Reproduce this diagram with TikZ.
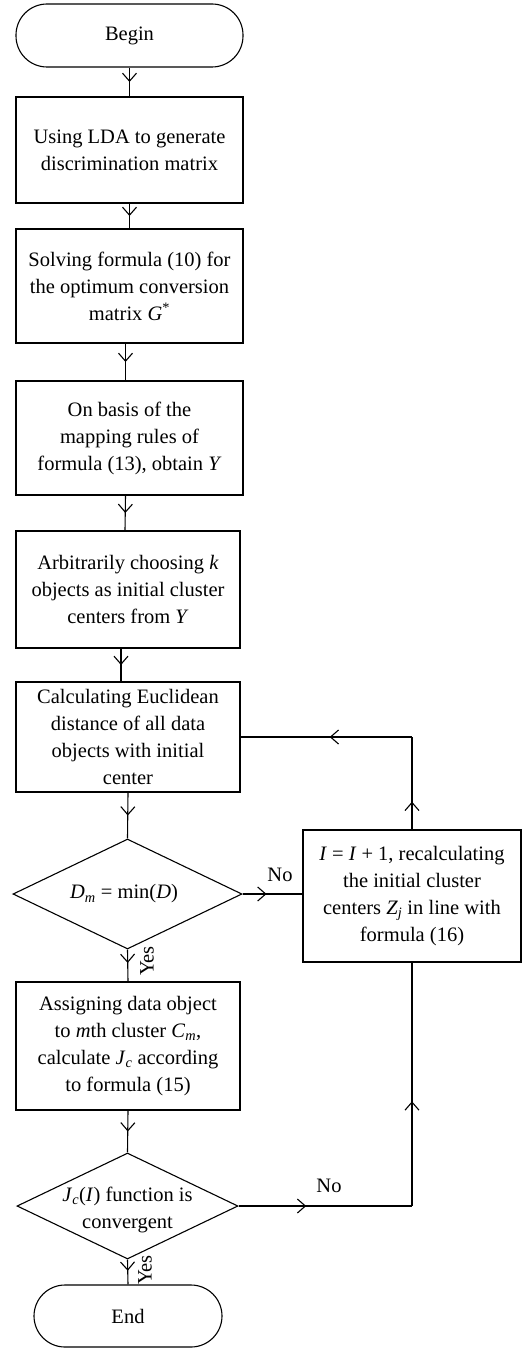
\documentclass[tikz,border=0pt]{standalone}
\usepackage{fontspec}
\setmainfont{Liberation Serif}
\usetikzlibrary{arrows.meta,decorations.markings,shapes.geometric}
\tikzset{
  txt/.style={font=\fontsize{20.5}{27}\selectfont, align=center},
  procbox/.style={draw, rectangle, inner sep=0pt, txt},
  termbox/.style={draw, rectangle, rounded corners=31pt, inner sep=0pt, txt},
  decbox/.style={draw, diamond, inner sep=0pt},
  lbl/.style={font=\fontsize{20.5}{24}\selectfont, inner sep=0pt},
  flow/.style={draw, postaction={decorate}, decoration={markings,
      mark=at position #1 with {\arrow{Straight Barb[length=8pt,width=14pt]}}}},
  flow/.default=0.5
}
\begin{document}
\begin{tikzpicture}[x=1pt,y=-1pt,line width=1.1pt]
\useasboundingbox (0,0) rectangle (529,1348);
\node[termbox, minimum width=227pt, minimum height=63pt] (begin) at (129.5,35.5) {Begin};
\node[procbox, minimum width=227pt, minimum height=106pt] (b1) at (129.5,150) {Using LDA to generate\\discrimination matrix};
\node[procbox, minimum width=227pt, minimum height=114pt] (b2) at (129.5,286) {Solving formula (10) for\\the optimum conversion\\matrix \textit{G}\textsuperscript{*}};
\node[procbox, minimum width=227pt, minimum height=114pt] (b3) at (129.5,438) {On basis of the\\mapping rules of\\formula (13), obtain \textit{Y}};
\node[procbox, minimum width=224pt, minimum height=117pt] (b4) at (128,589.5) {Arbitrarily choosing \textit{k}\\objects as initial cluster\\centers from \textit{Y}};
\node[procbox, minimum width=224pt, minimum height=110pt] (b5) at (128,737) {Calculating Euclidean\\distance of all data\\objects with initial\\center};
\node[decbox, minimum width=229pt, minimum height=110pt] (d1) at (127.5,894) {};
\node[txt] (d1t) at (124,894) {\textit{D}\textsubscript{\textit{m}} = min(\textit{D})};
\node[procbox, minimum width=218pt, minimum height=132pt] (rb) at (412,896) {\textit{I} = \textit{I} + 1, recalculating\\the initial cluster\\centers \textit{Z}\textsubscript{\textit{j}} in line with\\formula (16)};
\node[procbox, minimum width=224pt, minimum height=128pt] (b6) at (128,1046) {Assigning data object\\to \textit{m}th cluster \textit{C}\textsubscript{\textit{m}},\\calculate \textit{J}\textsubscript{\textit{c}} according\\to formula (15)};
\node[decbox, minimum width=221pt, minimum height=106pt] (d2) at (127.5,1206) {};
\node[txt] (d2t) at (127.5,1210) {\textit{J}\textsubscript{\textit{c}}(\textit{I}) function is\\convergent};
\node[termbox, minimum width=188pt, minimum height=62pt] (end) at (128,1316) {End};

\coordinate (c1) at (rb.north |- b5.east);
\coordinate (c2) at (rb.south |- d2.east);

\draw[flow] (begin.south) -- (b1.north);
\draw[flow] (b1.south) -- (b2.north);
\draw[flow] ([xshift=-4pt]b2.south) -- ([xshift=-4pt]b3.north);
\draw[flow] ([xshift=-4pt]b3.south) -- ([xshift=-3pt]b4.north);
\draw[flow] ([xshift=-7pt]b4.south) -- ([xshift=-7pt]b5.north);
\draw[flow] (b5.south) -- (d1.north);
\draw[flow=0.42] (d1.south) -- (b6.north);
\draw[flow] (b6.south) -- (d2.north);
\draw[flow=0.45] (d2.south) -- (end.north);
\draw[flow=0.4] (d1.east) -- (d1.east -| rb.west);
\draw[flow=0.3] (rb.north) -- (c1);
\draw[flow=0.48] (c1) -- (b5.east);
\draw[flow=0.39] (d2.east) -- (c2);
\draw[flow=0.43] (c2) -- (rb.south);

\node[lbl] (no1) at (280,875) {No};
\node[lbl] (no2) at (329,1186) {No};
\node[lbl, rotate=90] (yes1) at (147,961) {Yes};
\node[lbl, rotate=90] (yes2) at (145,1270) {Yes};
\end{tikzpicture}
\end{document}
